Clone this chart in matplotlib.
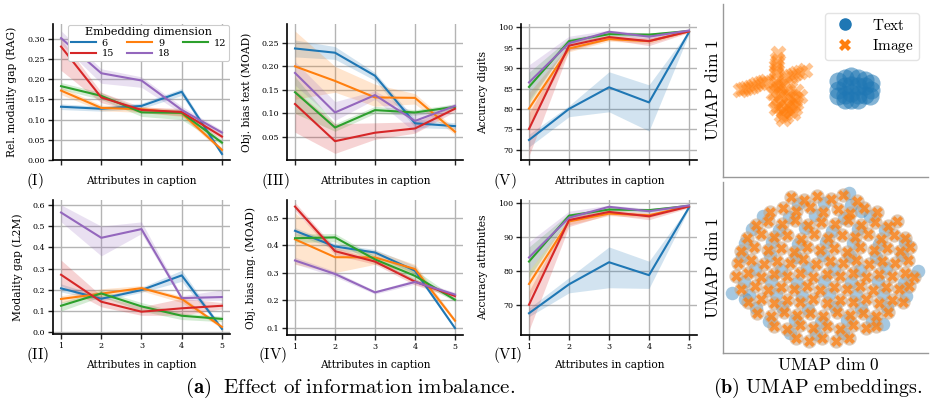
import matplotlib
matplotlib.use('Agg')
import matplotlib.pyplot as plt
from matplotlib.lines import Line2D

plt.rcParams['font.family'] = ['DejaVu Serif']
plt.rcParams['mathtext.fontset'] = 'cm'

# ---------------- data ----------------
attributes = [1, 2, 3, 4, 5]
dims = [6, 9, 12, 15, 18]

rag_mean = {6: [0.132, 0.127, 0.134, 0.169, 0.015], 9: [0.172, 0.129, 0.126, 0.116, 0.025],
            12: [0.183, 0.159, 0.118, 0.117, 0.043], 15: [0.281, 0.155, 0.124, 0.119, 0.058],
            18: [0.302, 0.215, 0.197, 0.124, 0.068]}
rag_lo = {6: [0.125, 0.121, 0.127, 0.160, 0.010], 9: [0.162, 0.122, 0.118, 0.108, 0.020],
          12: [0.175, 0.150, 0.108, 0.100, 0.037], 15: [0.222, 0.142, 0.117, 0.110, 0.052],
          18: [0.287, 0.190, 0.180, 0.115, 0.062]}
rag_hi = {6: [0.139, 0.133, 0.141, 0.177, 0.020], 9: [0.181, 0.136, 0.133, 0.124, 0.030],
          12: [0.192, 0.167, 0.126, 0.126, 0.050], 15: [0.300, 0.168, 0.131, 0.128, 0.064],
          18: [0.320, 0.226, 0.206, 0.133, 0.074]}

moadt_mean = {6: [0.238, 0.229, 0.180, 0.079, 0.073], 9: [0.200, 0.169, 0.134, 0.133, 0.061],
              12: [0.145, 0.070, 0.107, 0.102, 0.114], 15: [0.120, 0.041, 0.059, 0.068, 0.110],
              18: [0.186, 0.102, 0.139, 0.084, 0.116]}
moadt_lo = {6: [0.220, 0.215, 0.170, 0.070, 0.067], 9: [0.130, 0.145, 0.115, 0.120, 0.055],
            12: [0.100, 0.062, 0.100, 0.096, 0.108], 15: [0.060, 0.015, 0.045, 0.058, 0.104],
            18: [0.160, 0.085, 0.130, 0.060, 0.110]}
moadt_hi = {6: [0.256, 0.242, 0.187, 0.088, 0.080], 9: [0.275, 0.200, 0.162, 0.142, 0.068],
            12: [0.178, 0.078, 0.115, 0.108, 0.120], 15: [0.150, 0.078, 0.080, 0.082, 0.116],
            18: [0.210, 0.125, 0.148, 0.100, 0.121]}

accd_mean = {6: [72.4, 80.0, 85.3, 81.6, 98.8], 9: [80.1, 94.8, 97.1, 96.6, 99.0],
             12: [85.4, 96.6, 98.3, 98.2, 99.1], 15: [75.1, 95.5, 97.6, 96.6, 99.0],
             18: [86.5, 96.1, 98.9, 97.7, 99.2]}
accd_lo = {6: [70.7, 78.1, 79.3, 74.6, 98.4], 9: [76.0, 94.0, 96.6, 96.0, 98.8],
           12: [81.5, 96.0, 97.8, 97.7, 98.9], 15: [68.5, 94.3, 97.0, 95.5, 98.7],
           18: [82.2, 95.5, 98.3, 97.0, 99.0]}
accd_hi = {6: [73.8, 80.8, 89.1, 85.9, 99.2], 9: [84.0, 95.6, 97.6, 97.2, 99.2],
           12: [89.0, 97.3, 98.8, 98.6, 99.3], 15: [79.0, 96.5, 98.0, 97.5, 99.3],
           18: [90.8, 97.8, 99.3, 98.5, 99.4]}

l2m_mean = {6: [0.207, 0.158, 0.199, 0.268, 0.016], 9: [0.157, 0.182, 0.208, 0.157, 0.025],
            12: [0.125, 0.183, 0.122, 0.078, 0.063], 15: [0.271, 0.144, 0.097, 0.113, 0.125],
            18: [0.564, 0.445, 0.486, 0.161, 0.166]}
l2m_lo = {6: [0.190, 0.148, 0.188, 0.240, 0.010], 9: [0.140, 0.168, 0.195, 0.140, 0.018],
          12: [0.100, 0.168, 0.100, 0.060, 0.050], 15: [0.220, 0.120, 0.080, 0.080, 0.110],
          18: [0.520, 0.360, 0.465, 0.150, 0.150]}
l2m_hi = {6: [0.228, 0.168, 0.212, 0.292, 0.024], 9: [0.172, 0.205, 0.220, 0.170, 0.032],
          12: [0.142, 0.198, 0.140, 0.092, 0.075], 15: [0.340, 0.172, 0.120, 0.160, 0.140],
          18: [0.600, 0.500, 0.520, 0.172, 0.200]}

moadi_mean = {6: [0.452, 0.395, 0.373, 0.307, 0.098], 9: [0.421, 0.356, 0.355, 0.313, 0.125],
              12: [0.425, 0.428, 0.348, 0.288, 0.201], 15: [0.540, 0.378, 0.340, 0.267, 0.215],
              18: [0.344, 0.295, 0.228, 0.266, 0.220]}
moadi_lo = {6: [0.440, 0.385, 0.362, 0.295, 0.095], 9: [0.330, 0.300, 0.330, 0.298, 0.118],
            12: [0.410, 0.412, 0.335, 0.270, 0.195], 15: [0.525, 0.365, 0.330, 0.255, 0.208],
            18: [0.332, 0.285, 0.222, 0.258, 0.212]}
moadi_hi = {6: [0.464, 0.405, 0.384, 0.325, 0.102], 9: [0.518, 0.392, 0.380, 0.330, 0.132],
            12: [0.440, 0.442, 0.360, 0.310, 0.208], 15: [0.555, 0.390, 0.350, 0.277, 0.222],
            18: [0.356, 0.305, 0.234, 0.275, 0.228]}

acca_mean = {6: [67.5, 76.0, 82.5, 78.7, 98.6], 9: [76.1, 94.5, 96.8, 96.3, 99.0],
             12: [82.7, 96.2, 98.0, 97.8, 99.1], 15: [70.0, 94.9, 97.3, 96.0, 98.9],
             18: [83.9, 95.6, 98.8, 97.5, 99.2]}
acca_lo = {6: [66.5, 73.5, 75.0, 74.8, 98.2], 9: [72.0, 93.5, 96.2, 95.6, 98.7],
           12: [78.0, 95.5, 97.5, 97.2, 98.8], 15: [62.5, 93.0, 96.5, 95.0, 98.5],
           18: [80.0, 95.0, 98.3, 97.0, 99.0]}
acca_hi = {6: [69.0, 78.0, 87.0, 82.8, 99.0], 9: [80.0, 95.3, 97.4, 96.9, 99.2],
           12: [87.0, 96.8, 98.5, 98.3, 99.3], 15: [74.0, 96.0, 98.0, 97.0, 99.2],
           18: [88.5, 97.5, 99.3, 98.3, 99.4]}

# UMAP (before training): image and text embeddings
umap_a_image = [(2.68, 7.18), (2.65, 6.80), (2.60, 6.41), (2.57, 6.02), (2.68, 5.63), (2.60, 5.44),
                (0.81, 5.01), (1.14, 5.15), (1.46, 5.28), (1.79, 5.44), (2.11, 5.57), (3.09, 5.79),
                (3.41, 5.92), (3.74, 6.06), (3.98, 6.16), (2.52, 5.24), (2.85, 5.24), (3.25, 5.15),
                (3.58, 4.95), (2.44, 4.85), (2.76, 4.76), (3.17, 4.66), (3.50, 4.56), (3.74, 4.66),
                (2.52, 4.37), (2.85, 4.27), (3.25, 4.17), (3.58, 4.27), (2.60, 3.98), (2.93, 3.79),
                (3.25, 3.79), (3.50, 3.98), (3.09, 3.50), (2.85, 3.59),
                (0.97, 5.08), (1.30, 5.22), (1.62, 5.36), (1.95, 5.50), (3.25, 5.85), (3.58, 5.99),
                (2.62, 6.60), (2.60, 6.20), (2.70, 5.00), (3.00, 4.95), (3.35, 4.45), (2.70, 4.10),
                (3.05, 4.05), (3.40, 3.70), (2.95, 3.35)]
umap_a_text = [(5.61, 5.53), (5.61, 5.05), (5.61, 4.66), (5.93, 5.73), (5.93, 5.24), (5.93, 4.76),
               (5.93, 4.47), (6.26, 5.83), (6.26, 5.34), (6.26, 4.85), (6.26, 4.47), (6.59, 5.73),
               (6.59, 5.24), (6.59, 4.76), (6.59, 4.47), (6.91, 5.63), (6.91, 5.24), (6.91, 4.76),
               (7.24, 5.44), (7.24, 5.05), (7.15, 4.66)]

# UMAP (after training): modalities overlap
umap_b_image = [(-3.4, 7.1), (-2.1, 6.8), (-0.8, 7.2), (0.5, 6.9), (1.7, 7.3), (3.1, 6.7),
                (-5.5, 5.6), (-4.2, 6.0), (-2.9, 5.7), (-1.5, 6.1), (-0.2, 5.6), (1.2, 5.9), (2.4, 5.5), (3.8, 6.0), (5.1, 5.6),
                (-6.9, 4.3), (-5.7, 4.7), (-4.3, 4.4), (-3.0, 4.8), (-1.7, 4.3), (-0.4, 4.6), (0.9, 4.4), (2.2, 4.8),
                (3.5, 4.3), (4.9, 4.6), (6.2, 4.2), (7.1, 4.7),
                (-7.8, 3.0), (-6.4, 3.4), (-5.1, 3.1), (-3.8, 3.3), (-2.4, 2.9), (-1.1, 3.4), (0.2, 3.0), (1.6, 3.3),
                (2.9, 3.1), (4.2, 3.4), (5.5, 2.9), (6.8, 3.3), (7.9, 3.0),
                (-8.4, 1.7), (-7.1, 2.1), (-5.7, 1.8), (-4.4, 2.0), (-3.1, 1.6), (-1.8, 2.1), (-0.5, 1.8), (0.8, 2.0),
                (2.1, 1.6), (3.4, 2.1), (4.8, 1.8), (6.1, 2.0), (7.4, 1.7), (8.4, 2.1),
                (-8.7, 0.5), (-7.4, 0.8), (-6.1, 0.4), (-4.8, 0.7), (-3.5, 0.5), (-2.2, 0.9), (-0.9, 0.4), (0.4, 0.7),
                (1.7, 0.5), (3.0, 0.8), (4.3, 0.4), (5.6, 0.7), (6.9, 0.5), (8.2, 0.8),
                (-8.9, -0.8), (-7.7, -0.5), (-6.4, -0.9), (-5.1, -0.6), (-3.8, -0.8), (-2.5, -0.5), (-1.2, -0.9),
                (0.1, -0.6), (1.4, -0.8), (2.7, -0.5), (4.0, -0.9), (5.3, -0.6), (6.6, -0.8), (7.9, -0.5), (8.8, -0.9),
                (-8.4, -2.1), (-7.0, -1.8), (-5.7, -2.2), (-4.4, -1.9), (-3.1, -2.1), (-1.8, -1.8), (-0.5, -2.2),
                (0.8, -1.9), (2.1, -2.1), (3.4, -1.8), (4.7, -2.2), (6.0, -1.9), (7.3, -2.1), (8.3, -1.8),
                (-7.7, -3.4), (-6.4, -3.1), (-5.1, -3.5), (-3.8, -3.2), (-2.5, -3.4), (-1.2, -3.1), (0.1, -3.5),
                (1.4, -3.2), (2.7, -3.4), (4.0, -3.1), (5.3, -3.5), (6.6, -3.2), (7.7, -3.4),
                (-6.8, -4.5), (-5.4, -4.8), (-4.1, -4.4), (-2.8, -4.7), (-1.5, -4.5), (-0.2, -4.8), (1.1, -4.4),
                (2.4, -4.7), (3.7, -4.5), (5.0, -4.8), (6.2, -4.4),
                (-5.1, -5.8), (-3.8, -6.1), (-2.5, -5.7), (-1.2, -6.0), (0.1, -5.8), (1.4, -6.1), (2.7, -5.7),
                (4.0, -6.0), (5.0, -5.8),
                (-2.9, -7.0), (-1.6, -7.3), (-0.3, -7.0), (1.0, -7.3), (2.3, -7.0)]
umap_b_text = [(-2.7, 6.4), (-0.1, 6.5), (2.5, 6.3),
               (-6.2, 5.2), (-3.6, 5.1), (-1.0, 5.3), (1.8, 5.0), (4.4, 5.2),
               (-7.3, 3.9), (-4.6, 3.8), (-2.0, 4.0), (0.6, 3.7), (3.2, 3.9), (5.9, 3.8),
               (-8.0, 2.5), (-5.3, 2.6), (-2.7, 2.4), (0.0, 2.6), (2.7, 2.5), (5.3, 2.4), (7.9, 2.6),
               (-8.3, 1.2), (-5.5, 1.3), (-2.9, 1.1), (-0.2, 1.3), (2.4, 1.2), (5.0, 1.1), (7.6, 1.3),
               (-7.0, -0.1), (-4.4, -0.2), (-1.8, 0.0), (0.8, -0.1), (3.4, -0.2), (6.0, 0.0),
               (-8.1, -1.4), (-5.4, -1.3), (-2.8, -1.5), (-0.1, -1.3), (2.5, -1.4), (5.2, -1.3), (7.8, -1.5),
               (-7.6, -2.7), (-4.9, -2.6), (-2.3, -2.8), (0.3, -2.6), (3.0, -2.7), (5.7, -2.6), (8.0, -2.8),
               (-6.9, -4.0), (-4.3, -3.9), (-1.7, -4.1), (0.9, -3.9), (3.5, -4.0), (6.1, -3.9),
               (-5.6, -5.3), (-3.0, -5.2), (-0.4, -5.4), (2.1, -5.2), (4.6, -5.3),
               (-3.5, -6.5), (-0.9, -6.6), (1.7, -6.5),
               (-9.3, -2.5), (-8.0, -3.1), (9.2, -0.3), (5.7, -5.6), (2.3, 7.5), (3.5, 5.7)]

# ---------------- figure ----------------
W, H = 934, 399
fig = plt.figure(figsize=(W / 100, H / 100), dpi=100)


def rect(l, t, r, b):
    return [l / W, 1 - b / H, (r - l) / W, (b - t) / H]


colors = {6: '#1f77b4', 9: '#ff7f0e', 12: '#2ca02c', 15: '#d62728', 18: '#9467bd'}

panels = [
    (rag_mean, rag_lo, rag_hi, (53, 24, 230, 160), 'Rel. modality gap (RAG)', (0.0, 0.337),
     [0.0, 0.05, 0.10, 0.15, 0.20, 0.25, 0.30], '{:.2f}', False, '(I)', (35, 181), 12),
    (l2m_mean, l2m_lo, l2m_hi, (53, 200, 230, 334), 'Modality gap (L2M)', (-0.008, 0.623),
     [0.0, 0.1, 0.2, 0.3, 0.4, 0.5, 0.6], '{:.1f}', True, '(II)', (38, 355), 18),
    (moadt_mean, moadt_lo, moadt_hi, (287, 24, 463, 160), 'Obj. bias text (MOAD)', (0.001, 0.29),
     [0.05, 0.10, 0.15, 0.20, 0.25], '{:.2f}', False, '(III)', (275, 181), 247),
    (moadi_mean, moadi_lo, moadi_hi, (287, 200, 463, 335), 'Obj. bias img. (MOAD)', (0.073, 0.564),
     [0.1, 0.2, 0.3, 0.4, 0.5], '{:.1f}', True, '(IV)', (273, 355), 251),
    (accd_mean, accd_lo, accd_hi, (521, 24, 697, 160), 'Accuracy digits', (67.5, 100.8),
     [70, 75, 80, 85, 90, 95, 100], '{:d}', False, '(V)', (505, 181), 483),
    (acca_mean, acca_lo, acca_hi, (521, 200, 697, 335), 'Accuracy attributes', (61.1, 100.8),
     [70, 80, 90, 100], '{:d}', True, '(VI)', (508, 355), 483),
]

for i, (mean, lo, hi, r, ylab, ylim, yticks, fmt, showx, roman, rpos, ylx) in enumerate(panels):
    ax = fig.add_axes(rect(*r))
    handles = {}
    for d in dims:
        ax.fill_between(attributes, lo[d], hi[d], color=colors[d], alpha=0.2, lw=0)
        h, = ax.plot(attributes, mean[d], color=colors[d], lw=1.5, label=str(d))
        handles[d] = h
    ax.set_xlim(0.8, 5.2)
    ax.set_ylim(*ylim)
    ax.set_xticks(attributes)
    ax.set_yticks(yticks)
    ax.set_yticklabels([fmt.format(v) for v in yticks])
    ax.grid(True, color='#b4b4b4', lw=1.0)
    ax.set_axisbelow(True)
    for s in ['top', 'right']:
        ax.spines[s].set_visible(False)
    for s in ['left', 'bottom']:
        ax.spines[s].set_linewidth(1.2)
    ax.tick_params(direction='out', length=3.5, width=1.0, labelsize=5.8, pad=2, color='#222222')
    if not showx:
        ax.tick_params(labelbottom=False)
    cx = (r[0] + r[2]) / 2
    ybot = 181 if not showx else 365
    fig.text(cx / W, 1 - ybot / H, 'Attributes in caption', ha='center', va='center', fontsize=7.7)
    fig.text(ylx / W, 1 - (r[1] + r[3]) / 2 / H, ylab, ha='center', va='center', rotation=90, fontsize=7.7)
    fig.text(rpos[0] / W, 1 - rpos[1] / H, r'$\mathrm{' + roman + '}$', ha='center', va='center', fontsize=11)
    if i == 0:
        order = [6, 15, 9, 18, 12]
        leg = ax.legend([handles[d] for d in order], [str(d) for d in order], ncol=3,
                        title='Embedding dimension', loc='upper right', fontsize=7,
                        title_fontsize=8.1, frameon=True, borderaxespad=0.1, handlelength=2.6,
                        columnspacing=1.3, labelspacing=0.15, borderpad=0.25, handletextpad=0.6)
        leg.get_frame().set_edgecolor('#cccccc')
        leg.get_frame().set_linewidth(0.8)
        leg.get_frame().set_alpha(1.0)

# UMAP panels
ax_u1 = fig.add_axes(rect(723, 4, 928, 177))
ax_u2 = fig.add_axes(rect(723, 182, 928, 353))
blue, orange = '#1f77b4', '#ff7f0e'

ax_u1.scatter([p[0] for p in umap_a_text], [p[1] for p in umap_a_text], s=170, marker='o',
              color=blue, alpha=0.55, linewidths=0)
ax_u1.scatter([p[0] for p in umap_a_image], [p[1] for p in umap_a_image], s=130, marker='X',
              color=orange, alpha=0.45, linewidths=0)
ax_u1.set_xlim(0, 10)
ax_u1.set_ylim(0, 10)

ax_u2.scatter([p[0] for p in umap_b_text], [p[1] for p in umap_b_text], s=95, marker='o',
              color=blue, alpha=0.4, linewidths=0)
ax_u2.scatter([p[0] for p in umap_b_image], [p[1] for p in umap_b_image], s=105, marker='o',
              color='#c9a583', alpha=0.6, linewidths=0)
ax_u2.scatter([p[0] for p in umap_b_image], [p[1] for p in umap_b_image], s=62, marker='X',
              color=orange, alpha=0.75, linewidths=0)
ax_u2.set_xlim(-10.2, 10.2)
ax_u2.set_ylim(-8.55, 8.55)

for ax in (ax_u1, ax_u2):
    ax.set_xticks([])
    ax.set_yticks([])
    for s in ['top', 'right']:
        ax.spines[s].set_visible(False)
    for s in ['left', 'bottom']:
        ax.spines[s].set_color('#999999')
        ax.spines[s].set_linewidth(1.0)

leg_handles = [Line2D([], [], marker='o', ls='', color=blue, markersize=8),
               Line2D([], [], marker='X', ls='', color=orange, markersize=8, markeredgewidth=0)]
lg = ax_u1.legend(leg_handles, [r'$\mathrm{Text}$', r'$\mathrm{Image}$'], loc='upper right',
                  fontsize=11, frameon=True, borderaxespad=0.6, handletextpad=0.8, labelspacing=0.3,
                  borderpad=0.3)
lg.get_frame().set_edgecolor('#dddddd')

fig.text(713 / W, 1 - 90 / H, r'$\mathrm{UMAP\ dim\ 1}$', rotation=90, ha='center', va='center', fontsize=12.5)
fig.text(713 / W, 1 - 268 / H, r'$\mathrm{UMAP\ dim\ 1}$', rotation=90, ha='center', va='center', fontsize=12.5)
fig.text(828 / W, 1 - 366 / H, r'$\mathrm{UMAP\ dim\ 0}$', ha='center', va='center', fontsize=12.5)

fig.text(350 / W, 1 - 388 / H, r'$\mathbf{(a)}\ \ \mathrm{Effect\ of\ information\ imbalance.}$',
         ha='center', va='center', fontsize=15)
fig.text(818 / W, 1 - 388 / H, r'$\mathbf{(b)}\ \mathrm{UMAP\ embeddings.}$',
         ha='center', va='center', fontsize=14.5)

fig.savefig('out.png', dpi=100)
